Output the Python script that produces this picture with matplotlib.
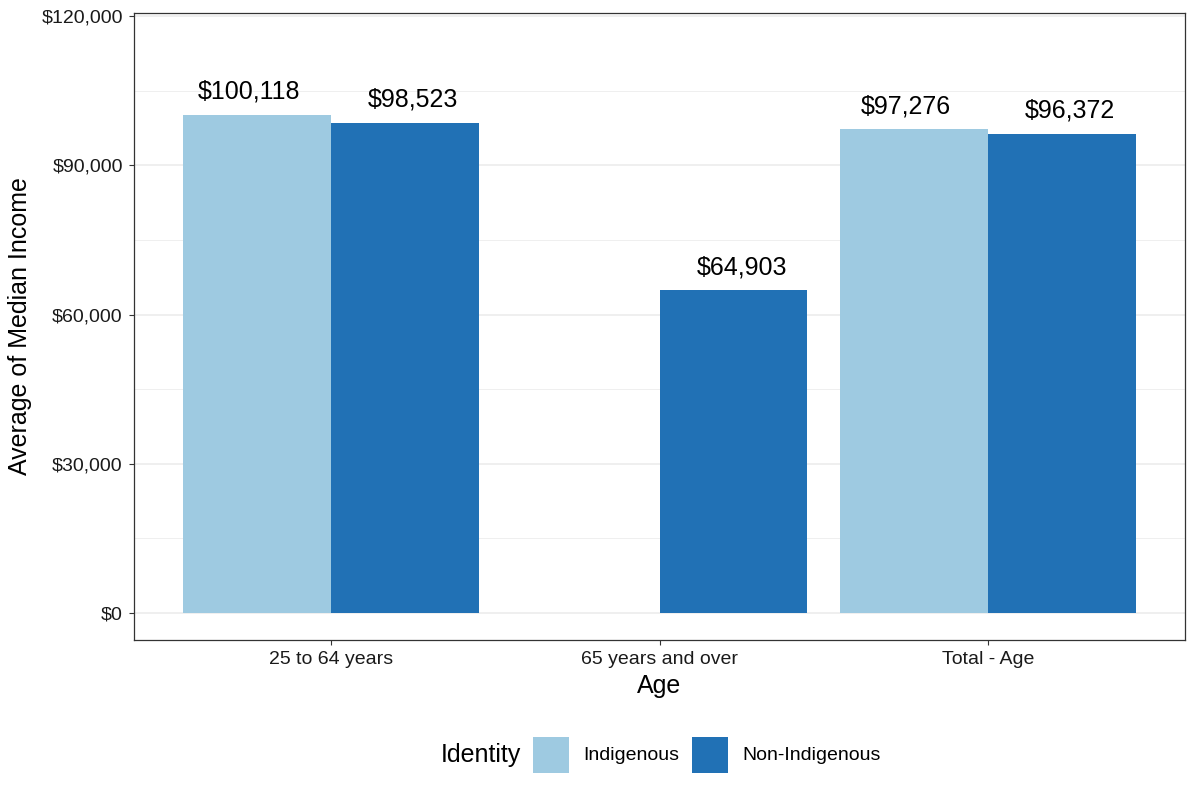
import matplotlib
matplotlib.use("Agg")
import matplotlib.pyplot as plt
import numpy as np
from matplotlib.patches import Rectangle
from matplotlib.ticker import FuncFormatter, MultipleLocator

categories = ["25 to 64 years", "65 years and over", "Total - Age"]
series_names = ["Indigenous", "Non-Indigenous"]
indigenous = [100118, np.nan, 97276]
non_indigenous = [98523, 64903, 96372]
colors = ["#9ECAE1", "#2171B5"]

plt.rcParams['font.family'] = ['Liberation Sans', 'DejaVu Sans']

W, H = 1199, 799
fig = plt.figure(figsize=(W / 100, H / 100), dpi=100)
ax = fig.add_axes([134 / W, (H - 640) / H, 1051 / W, 627 / H])

x = np.arange(1, len(categories) + 1)
bw = 0.45
label_off = 0.25
for vals, sgn, col in [(indigenous, -1, colors[0]), (non_indigenous, 1, colors[1])]:
    ax.bar(x + sgn * bw / 2, vals, width=bw, color=col, zorder=2)
    for xi, v in zip(x + sgn * label_off, vals):
        if not np.isnan(v):
            ax.annotate(f"${v:,.0f}", (xi, v), xytext=(0, 16), textcoords="offset pixels",
                        ha="center", va="baseline", fontsize=18, color="black", zorder=3)

ax.set_xlim(0.4, 3.6)
ax.set_ylim(-5427, 120603)
ax.set_xticks(x)
ax.set_xticklabels(categories)
ax.yaxis.set_major_locator(MultipleLocator(30000))
ax.yaxis.set_minor_locator(MultipleLocator(15000))
ax.yaxis.set_major_formatter(FuncFormatter(lambda v, p: f"${v:,.0f}"))
ax.grid(which="major", axis="y", color="#EBEBEB", linewidth=1.1, zorder=0)
ax.grid(which="minor", axis="y", color="#EBEBEB", linewidth=0.55, zorder=0)
ax.grid(which="major", axis="x", visible=False)
ax.tick_params(axis="y", which="minor", length=0)
ax.tick_params(axis="both", which="major", length=3.8, width=0.8, color="#333333",
               labelsize=14, labelcolor="#1A1A1A", pad=4.3)
for s in ax.spines.values():
    s.set_color("#333333")
    s.set_linewidth(0.9)

ax.set_xlabel("Age", fontsize=18, labelpad=4)
ax.set_ylabel("Average of Median Income", fontsize=18, labelpad=7)

# legend
ly = 755
fig.text(441 / W, (H - ly) / H, "Identity", fontsize=18, ha="left", va="center")
for (x0, name, col) in [(533, series_names[0], colors[0]), (692, series_names[1], colors[1])]:
    fig.patches.append(Rectangle((x0 / W, (H - 773) / H), 36 / W, 36 / H,
                                 transform=fig.transFigure, facecolor=col, edgecolor="none"))
    fig.text((x0 + 50) / W, (H - ly) / H, name, fontsize=14, ha="left", va="center")

fig.savefig("out.png", dpi=100)
